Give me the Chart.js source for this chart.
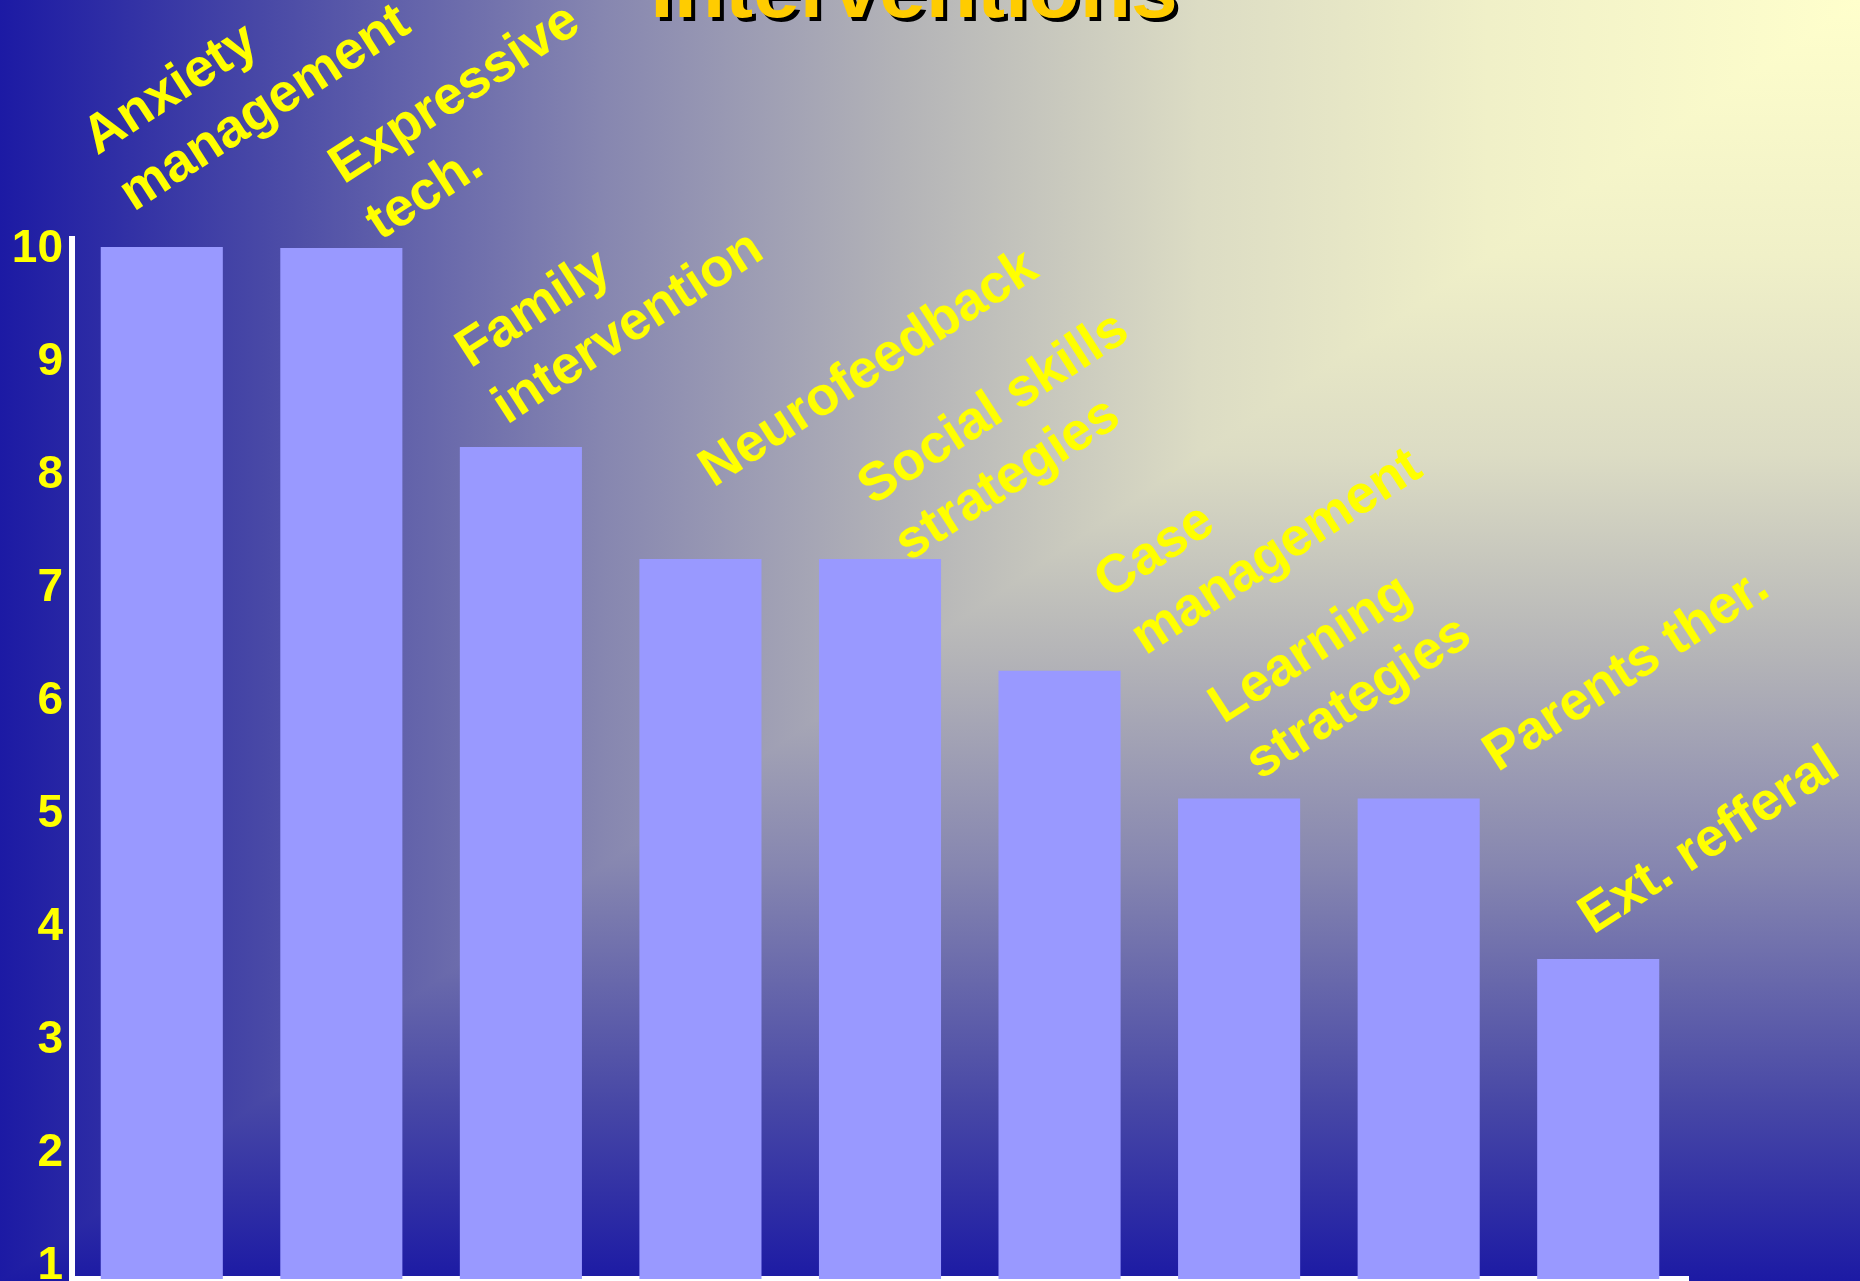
<!DOCTYPE html>
<html>
<head>
<meta charset="utf-8">
<title>Interventions</title>
<script src="https://cdn.jsdelivr.net/npm/chart.js@4.4.1/dist/chart.umd.min.js"></script>
<style>
  html, body { margin: 0; padding: 0; overflow: hidden; }
  body { width: 1860px; height: 1281px; position: relative; background: #1a1aa6; }
  #wrap { position: absolute; left: 0; top: 0; width: 1860px; height: 1281px; }
  h1 {
    position: absolute; left: 914px; top: -54px; transform: translateX(-50%);
    margin: 0; white-space: nowrap; z-index: 2;
    font: bold 84px "Liberation Sans", Arial, sans-serif; line-height: 84px;
    color: #ffcc00; text-shadow: 4px 4px 0 #000;
  }
</style>
</head>
<body>
<div id="wrap"><canvas id="chart"></canvas></div>
<h1>Interventions</h1>
<script>
document.addEventListener("DOMContentLoaded", () => {

  const categories = [
    ["Anxiety", "management"],
    ["Expressive", "tech."],
    ["Family", "intervention"],
    ["Neurofeedback"],
    ["Social skills", "strategies"],
    ["Case", "management"],
    ["Learning", "strategies"],
    ["Parents ther."],
    ["Ext. refferal"]
  ];

  const scores = [10.02, 10.01, 8.25, 7.26, 7.26, 6.27, 5.14, 5.14, 3.72];

  const yTicks = [1, 2, 3, 4, 5, 6, 7, 8, 9, 10];

  const FONT = '"Liberation Sans", Arial, sans-serif';
  Chart.defaults.font.family = FONT;

  // background: rectangular gradient from the top-right corner
  const stops = [
    [0, "#ffffcc"],
    [0.2, "#f0f0c8"],
    [0.355, "#dcdcc4"],
    [0.516, "#b3b3b7"],
    [0.677, "#8686b0"],
    [0.86, "#4848a6"],
    [1, "#1c1aa4"]
  ];

  const backdrop = {
    id: "backdrop",
    beforeDraw(chart) {
      const { ctx, width: w, height: h } = chart;
      ctx.save();
      const gh = ctx.createLinearGradient(w, 0, 0, 0);
      stops.forEach(s => gh.addColorStop(s[0], s[1]));
      ctx.fillStyle = gh;
      ctx.fillRect(0, 0, w, h);
      ctx.beginPath();
      ctx.moveTo(w, 0);
      ctx.lineTo(w, h);
      ctx.lineTo(0, h);
      ctx.closePath();
      ctx.clip();
      const gv = ctx.createLinearGradient(0, 0, 0, h);
      stops.forEach(s => gv.addColorStop(s[0], s[1]));
      ctx.fillStyle = gv;
      ctx.fillRect(0, 0, w, h);
      ctx.restore();
    }
  };

  // slanted category names above each bar
  const barNames = {
    id: "barNames",
    afterDatasetsDraw(chart, args, opts) {
      const { ctx } = chart;
      const meta = chart.getDatasetMeta(0);
      ctx.save();
      ctx.font = "bold " + opts.size + "px " + FONT;
      ctx.fillStyle = opts.color;
      ctx.textAlign = "left";
      ctx.textBaseline = "alphabetic";
      meta.data.forEach((bar, i) => {
        const lines = chart.data.labels[i];
        const nudge = opts.nudge[i] || [0, 0];
        ctx.save();
        ctx.translate(bar.x + nudge[0], bar.y + nudge[1]);
        ctx.rotate(-opts.angle * Math.PI / 180);
        lines.forEach((line, j) => {
          ctx.fillText(line, 0, -(lines.length - 1 - j) * opts.lineHeight);
        });
        ctx.restore();
      });
      ctx.restore();
    }
  };

  new Chart(document.getElementById("chart"), {
    type: "bar",
    data: {
      labels: categories,
      datasets: [{
        data: scores,
        backgroundColor: "#9999ff",
        borderWidth: 0,
        barPercentage: 0.68,
        categoryPercentage: 1
      }]
    },
    options: {
      responsive: true,
      maintainAspectRatio: false,
      animation: false,
      layout: {
        padding: { top: 239, right: 172, bottom: 2, left: 0 }
      },
      plugins: {
        legend: { display: false },
        title: { display: false },
        tooltip: { enabled: false },
        barNames: {
          size: 54,
          color: "#ffff00",
          angle: 33,
          lineHeight: 67,
          nudge: [
            [-28, -35], [39, -7], [-14, -22], [13, -71], [29, 3],
            [86, -15], [21, -18], [79, -26], [-5, -24]
          ]
        }
      },
      scales: {
        x: {
          type: "category",
          ticks: { display: false },
          grid: { display: false, drawTicks: false },
          border: { display: true, color: "#ffffff", width: 6 },
          afterFit: s => {
            s.height = 0;
            s.paddingLeft = 0;
            s.paddingRight = 0;
          }
        },
        y: {
          min: 0.89,
          max: 10.09,
          afterBuildTicks: s => {
            s.ticks = yTicks.map(v => ({ value: v }));
          },
          afterFit: s => {
            s.width = 72;
            s.paddingTop = 0;
            s.paddingBottom = 0;
          },
          ticks: {
            color: "#ffff00",
            padding: 9,
            font: { size: 46, weight: "bold" }
          },
          grid: { display: false, drawTicks: false },
          border: { display: true, color: "#ffffff", width: 6 }
        }
      }
    },
    plugins: [backdrop, barNames]
  });

});
</script>
</body>
</html>
